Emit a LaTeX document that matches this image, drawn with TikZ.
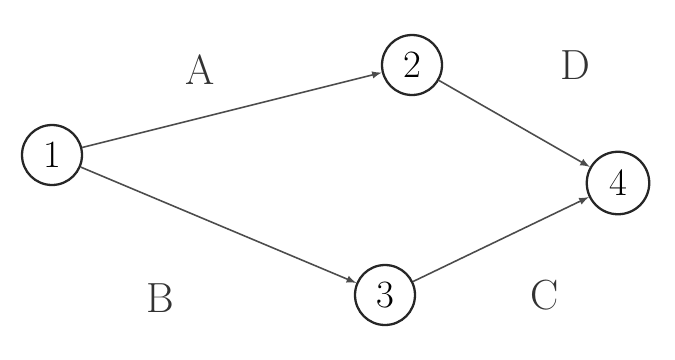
\documentclass[tikz,border=0pt]{standalone}
\usepackage{tikz}
\usetikzlibrary{positioning}

\tikzset{
  event/.style={draw=black!85,line width=1.3pt,circle,minimum size=1.2cm,inner sep=0pt,font=\fontsize{22}{24}\selectfont},
  act/.style={->,draw=black!70,line width=0.9pt},
  actlabel/.style={font=\fontsize{24}{28}\selectfont,text=black!80}
}

\begin{document}
\begin{tikzpicture}[>=latex,x=0.02cm,y=-0.02cm]
        \useasboundingbox (0,0) rectangle (675,359);
        \node[event] (one) at (52,155) {1};
        \node[event] (two) at (412,65) {2};
        \node[event] (three) at (385,295) {3};
        \node[event,minimum size=1.25cm] (four) at (618,183) {4};
        \draw[act] (one) -- (two);
        \draw[act] (two) -- (four);
        \draw[act] (one) -- (three);
        \draw[act] (three) -- (four);
        \node[actlabel] (labA) at (200,70) {A};
        \node[actlabel] (labD) at (575,65) {D};
        \node[actlabel] (labB) at (160,298) {B};
        \node[actlabel] (labC) at (545,295) {C};
    \end{tikzpicture}
\end{document}
